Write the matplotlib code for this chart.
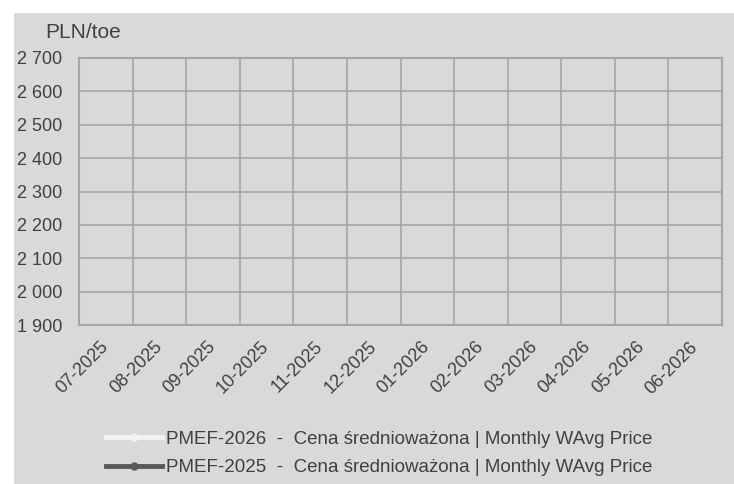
import matplotlib.pyplot as plt
from matplotlib.patches import Rectangle
from matplotlib.ticker import FuncFormatter, MultipleLocator
import numpy as np

# months on the x axis
months = ["07-2025", "08-2025", "09-2025", "10-2025", "11-2025", "12-2025",
          "01-2026", "02-2026", "03-2026", "04-2026", "05-2026", "06-2026"]

# no prices shown in the chart yet (empty series)
pmef_2026 = [np.nan] * 12
pmef_2025 = [np.nan] * 12

label_2026 = "PMEF-2026  -  Cena średnioważona | Monthly WAvg Price"
label_2025 = "PMEF-2025  -  Cena średnioważona | Monthly WAvg Price"

plt.rcParams['font.family'] = ['Liberation Sans', 'DejaVu Sans']
text_col = "#404040"
grid_col = "#a6a6a6"
bg_col = "#d9d9d9"

fig = plt.figure(figsize=(7.34, 4.84), dpi=100, facecolor="white")
#gray panel behind everything (white strip on left and top)
fig.add_artist(Rectangle((14/734, 0), 1, 1 - 13/484, transform=fig.transFigure,
                         facecolor=bg_col, edgecolor="none", zorder=-10))

ax = fig.add_axes([79/734, 1 - 325/484, 643/734, 267/484])
ax.set_facecolor(bg_col)

x = np.arange(len(months))
ax.plot(x, pmef_2026, color="#f2f2f2", lw=3.5, marker="o", ms=5, label=label_2026)
ax.plot(x, pmef_2025, color="#595959", lw=3.5, marker="o", ms=5, label=label_2025)

ax.set_xlim(-0.5, len(months) - 0.5)
ax.set_ylim(1900, 2700)
ax.yaxis.set_major_locator(MultipleLocator(100))
ax.yaxis.set_major_formatter(FuncFormatter(lambda v, p: f"{int(v):,}".replace(",", " ")))

#vertical gridlines sit between months
ax.set_xticks(x)
ax.set_xticks(np.arange(-0.5, len(months), 1), minor=True)
ax.set_xticklabels(months, rotation=45, ha="right", va="center", rotation_mode="anchor")
ax.grid(which="minor", axis="x", color=grid_col, lw=1.2)
ax.grid(which="major", axis="y", color=grid_col, lw=1.2)
ax.set_axisbelow(True)

ax.tick_params(axis="both", which="both", length=0, labelsize=13, labelcolor=text_col)
ax.tick_params(axis="x", pad=14)
ax.tick_params(axis="y", pad=12)
for s in ax.spines.values():
    s.set_color(grid_col)
    s.set_linewidth(1.5)

fig.text(45/734, 1 - 33/484, "PLN/toe", fontsize=15, color=text_col, va="center", ha="left")

fig.legend(loc="center", bbox_to_anchor=(379/734, 1 - 453.5/484), ncol=1, frameon=False,
           fontsize=13.5, labelcolor=text_col, handlelength=3, handletextpad=0.2,
           labelspacing=0.6)

fig.savefig("out.png", dpi=100, facecolor="white")
